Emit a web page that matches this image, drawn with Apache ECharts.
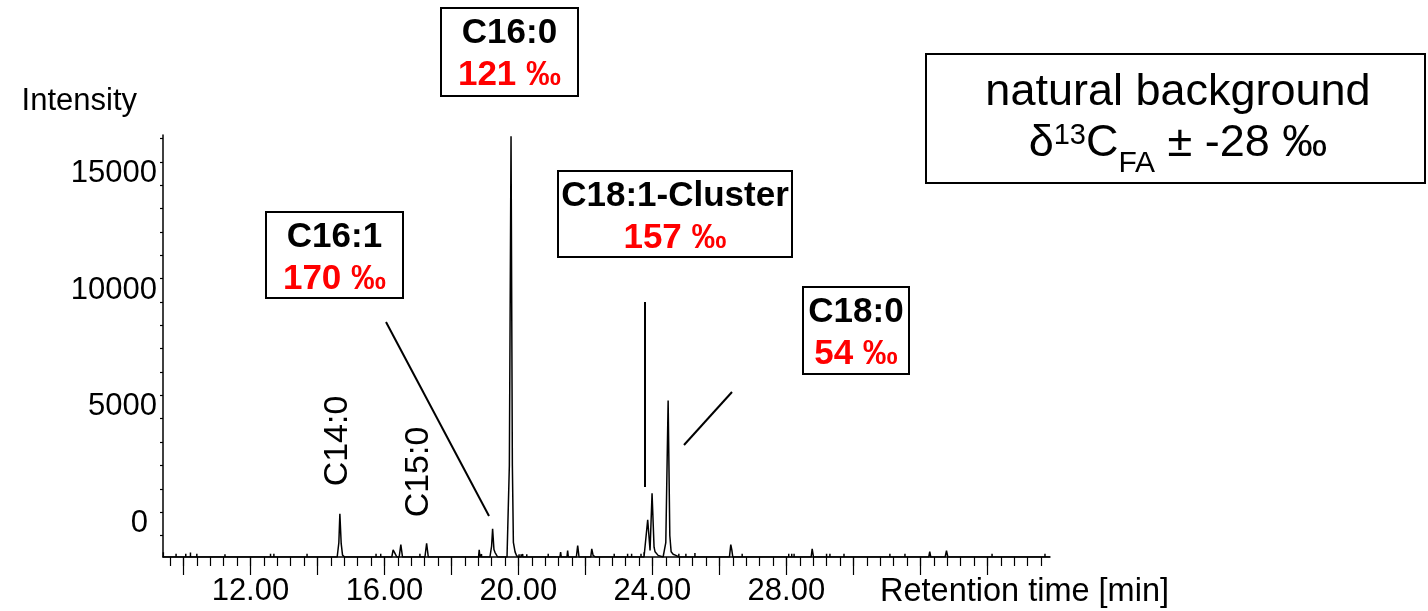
<!DOCTYPE html>
<html>
<head>
<meta charset="utf-8">
<script src="https://cdn.jsdelivr.net/npm/echarts@6/dist/echarts.min.js"></script>
<style>
html,body{margin:0;padding:0;background:#fff;}
#c{width:1428px;height:611px;}
</style>
</head>
<body>
<div id="c"></div>
<script>
// ---- data ----
const retentionTime = [
  9.40, 9.40, 9.40,
  9.78, 9.78, 9.78,
  10.07, 10.07, 10.07,
  10.21, 10.21, 10.21,
  10.40, 10.40, 10.40,
  11.24, 11.24, 11.24,
  12.60, 12.60, 12.60,
  12.70, 12.70, 12.70,
  13.69, 13.69, 13.69,
  14.59, 14.64, 14.67, 14.71, 14.75, 14.78, 14.81,
  15.75, 15.75, 15.75,
  15.89, 15.89, 15.89,
  16.22, 16.26, 16.30, 16.34, 16.37,
  16.44, 16.49, 16.54,
  17.06, 17.06, 17.06,
  17.21, 17.26, 17.31,
  18.81, 18.83, 18.85,
  18.90, 18.90, 18.90,
  19.15, 19.20, 19.23, 19.27, 19.30, 19.35, 19.38,
  19.66, 19.73, 19.78, 19.82, 19.85, 19.90, 19.95, 19.98,
  20.02, 20.02, 20.02,
  20.08, 20.08, 20.08,
  20.13, 20.13, 20.13,
  20.25, 20.25, 20.25,
  20.89, 20.89, 20.89,
  21.24, 21.26, 21.28,
  21.45, 21.47, 21.49,
  21.73, 21.77, 21.81,
  22.16, 22.19, 22.23, 22.28, 22.30,
  22.86, 22.86, 22.86,
  23.26, 23.26, 23.26,
  23.38, 23.38, 23.38,
  23.66, 23.66, 23.66,
  23.75, 23.75, 23.75,
  23.80, 23.86, 23.93, 23.99, 24.05, 24.08, 24.13, 24.17, 24.20,
  24.32, 24.40, 24.47, 24.52, 24.56, 24.62, 24.70, 24.73,
  24.79, 24.79, 24.79,
  25.00, 25.00, 25.00,
  25.27, 25.27, 25.27,
  26.30, 26.34, 26.37, 26.40,
  26.68, 26.68, 26.68,
  28.07, 28.07, 28.07,
  28.16, 28.16, 28.16,
  28.23, 28.23, 28.23,
  28.74, 28.77, 28.81,
  29.20, 29.20, 29.20,
  29.30, 29.30, 29.30,
  29.72, 29.72, 29.72,
  31.09, 31.09, 31.09,
  31.54, 31.54, 31.54,
  32.25, 32.28, 32.31,
  32.74, 32.78, 32.82,
  34.14, 34.14, 34.14,
  35.72, 35.72, 35.72,
  35.87
];
const intensity = [
  -920, -715, -920,
  -920, -785, -920,
  -920, -785, -920,
  -920, -730, -920,
  -920, -785, -920,
  -920, -800, -920,
  -920, -785, -920,
  -920, -785, -920,
  -920, -785, -920,
  -920, -300, 930, -350, -840, -790, -920,
  -920, -785, -920,
  -920, -785, -920,
  -920, -620, -720, -650, -920,
  -920, -390, -920,
  -920, -785, -920,
  -920, -330, -920,
  -920, -613, -920,
  -920, -800, -920,
  -920, -450, 290, -600, -720, -700, -920,
  -920, 3000, 17100, 3000, -290, -700, -880, -920,
  -920, -800, -920,
  -920, -800, -920,
  -920, -800, -920,
  -920, -800, -920,
  -920, -785, -920,
  -920, -715, -920,
  -920, -643, -920,
  -920, -430, -920,
  -920, -570, -850, -780, -920,
  -920, -785, -920,
  -920, -785, -920,
  -920, -785, -920,
  -920, -785, -920,
  -920, -715, -920,
  -920, 673, -643, 1813, -500, -700, -780, -850, -920,
  -920, -300, 5786, 0, -700, -800, -850, -920,
  -920, -785, -920,
  -920, -785, -920,
  -920, -750, -920,
  -920, -390, -600, -920,
  -920, -785, -920,
  -920, -785, -920,
  -920, -785, -920,
  -920, -785, -920,
  -920, -570, -920,
  -920, -785, -920,
  -920, -785, -920,
  -920, -785, -920,
  -920, -785, -920,
  -920, -785, -920,
  -920, -686, -920,
  -920, -643, -920,
  -920, -785, -920,
  -920, -785, -920,
  -920
];

// axis tick / label values
const xLabelValues = [12, 16, 20, 24, 28];
const xMajorTicks = [10, 12, 14, 16, 18, 20, 22, 24, 26, 28, 30, 32, 34];
const yLabelValues = [0, 5000, 10000, 15000];
const yTickValues = [0, 1000, 2000, 3000, 4000, 5000, 6000, 7000, 8000, 9000, 10000,
                     11000, 12000, 13000, 14000, 15000, 16000, 17000];
const xMinorTicks = [];
for (let k = 24; k <= 89; k++) xMinorTicks.push(+(k * 0.4).toFixed(1));

// annotation texts
const peakNames = ['C16:0', 'C16:1', 'C18:1-Cluster', 'C18:0'];
const peakDeltas = ['121 ‰', '170 ‰', '157 ‰', '54 ‰'];
const sideLabels = ['C14:0', 'C15:0'];
const backgroundTitle = 'natural background';

// ---- chart ----
const FONT = 'Arial, "Liberation Sans", Helvetica, sans-serif';
const X_MIN = 9.39, X_MAX = 35.87, Y_MIN = -920, Y_MAX = 17150;

const boxGeom = [
  {x: 441, y: 8,   w: 137, h: 88},
  {x: 266, y: 212, w: 137, h: 86},
  {x: 558, y: 171, w: 234, h: 86},
  {x: 803, y: 287, w: 106, h: 87}
];

const graphics = [];
boxGeom.forEach((b, i) => {
  graphics.push({type: 'rect', shape: {x: b.x, y: b.y, width: b.w, height: b.h},
    style: {fill: '#fff', stroke: '#000', lineWidth: 2}, z: 10});
  graphics.push({type: 'text', x: b.x + b.w / 2, y: b.y + 25, z: 11,
    style: {text: peakNames[i], fill: '#000', fontFamily: FONT, fontSize: 35, fontWeight: 'bold',
      align: 'center', verticalAlign: 'middle', textAlign: 'center', textVerticalAlign: 'middle'}});
  graphics.push({type: 'text', x: b.x + b.w / 2, y: b.y + 67, z: 11,
    style: {text: peakDeltas[i], fill: '#ff0000', fontFamily: FONT, fontSize: 35, fontWeight: 'bold',
      align: 'center', verticalAlign: 'middle', textAlign: 'center', textVerticalAlign: 'middle'}});
});
// leader lines
[[386, 322, 489, 516], [645, 302, 645, 487], [732, 392, 684, 445]].forEach(l => {
  graphics.push({type: 'line', shape: {x1: l[0], y1: l[1], x2: l[2], y2: l[3]},
    style: {stroke: '#000', lineWidth: 2}, z: 10});
});
// rotated labels
[[338, 441], [419, 472]].forEach((p, i) => {
  graphics.push({type: 'text', x: p[0], y: p[1], rotation: Math.PI / 2, z: 10,
    style: {text: sideLabels[i], fill: '#000', fontFamily: FONT, fontSize: 34,
      align: 'center', verticalAlign: 'middle', textAlign: 'center', textVerticalAlign: 'middle'}});
});
// natural background box
graphics.push({type: 'rect', shape: {x: 926, y: 54, width: 499, height: 129},
  style: {fill: '#fff', stroke: '#000', lineWidth: 2}, z: 10});
graphics.push({type: 'text', x: 1178, y: 93, z: 11,
  style: {text: backgroundTitle, fill: '#000', fontFamily: FONT, fontSize: 45,
    align: 'center', verticalAlign: 'middle', textAlign: 'center', textVerticalAlign: 'middle'}});
graphics.push({type: 'text', x: 1178, y: 144, z: 11,
  style: {text: '{m|δ}{sup|13}{m|C}{sub|FA}{m| ± -28 ‰}', fill: '#000',
    align: 'center', verticalAlign: 'middle', textAlign: 'center', textVerticalAlign: 'middle',
    rich: {
      m: {fontFamily: FONT, fontSize: 45, lineHeight: 80, verticalAlign: 'middle', fill: '#000', color: '#000'},
      sup: {fontFamily: FONT, fontSize: 29, verticalAlign: 'middle', padding: [0, 0, 16, 0], fill: '#000', color: '#000'},
      sub: {fontFamily: FONT, fontSize: 30, verticalAlign: 'middle', padding: [40, 0, 0, 0], fill: '#000', color: '#000'}
    }}});

const axisLineStyle = {color: '#000', width: 1.5};
const option = {
  animation: false,
  backgroundColor: '#fff',
  grid: {left: 163, right: 378, top: 135, bottom: 54, containLabel: false, outerBoundsMode: 'none'},
  xAxis: [{
    type: 'value', min: X_MIN, max: X_MAX, position: 'bottom',
    name: 'Retention time [min]', nameLocation: 'end', nameGap: -170, nameMoveOverlap: false,
    nameTextStyle: {fontFamily: FONT, fontSize: 32.5, color: '#000', align: 'left',
      verticalAlign: 'top', lineHeight: 31, padding: [20, 0, 0, 0]},
    axisLine: {show: true, onZero: false, lineStyle: axisLineStyle},
    axisTick: {show: true, length: 9, customValues: xMinorTicks, lineStyle: {color: '#000', width: 1.2}},
    axisLabel: {show: true, customValues: xLabelValues, formatter: v => v.toFixed(2),
      fontFamily: FONT, fontSize: 31, color: '#000', margin: 19},
    splitLine: {show: false}
  }, {
    type: 'value', min: X_MIN, max: X_MAX, position: 'bottom',
    axisLine: {show: false, onZero: false},
    axisTick: {show: true, length: 18, customValues: xMajorTicks, lineStyle: {color: '#000', width: 1.2}},
    axisLabel: {show: false},
    splitLine: {show: false}
  }],
  yAxis: {
    type: 'value', min: Y_MIN, max: Y_MAX,
    name: 'Intensity', nameLocation: 'end', nameGap: 34, nameMoveOverlap: false,
    nameTextStyle: {fontFamily: FONT, fontSize: 31, color: '#000', align: 'right',
      verticalAlign: 'middle', padding: [0, 26, 0, 0]},
    axisLine: {show: true, onZero: false, lineStyle: axisLineStyle},
    axisTick: {show: true, length: 3, customValues: yTickValues, lineStyle: {color: '#000', width: 1.2}},
    axisLabel: {show: true, customValues: yLabelValues,
      formatter: v => (v === 0 ? '{z|0}' : String(v)),
      rich: {z: {fontFamily: FONT, fontSize: 31, color: '#000', lineHeight: 24, padding: [0, 9, 0, 0]}},
      fontFamily: FONT, fontSize: 31, color: '#000', margin: 6, verticalAlign: 'bottom', lineHeight: 24},
    splitLine: {show: false}
  },
  series: [{
    type: 'line', xAxisIndex: 0, yAxisIndex: 0,
    data: retentionTime.map((t, i) => [t, intensity[i]]),
    symbol: 'none', silent: true,
    lineStyle: {color: '#000', width: 1.5}
  }],
  graphic: graphics
};

const chart = echarts.init(document.getElementById('c'));
chart.setOption(option);
</script>
</body>
</html>
